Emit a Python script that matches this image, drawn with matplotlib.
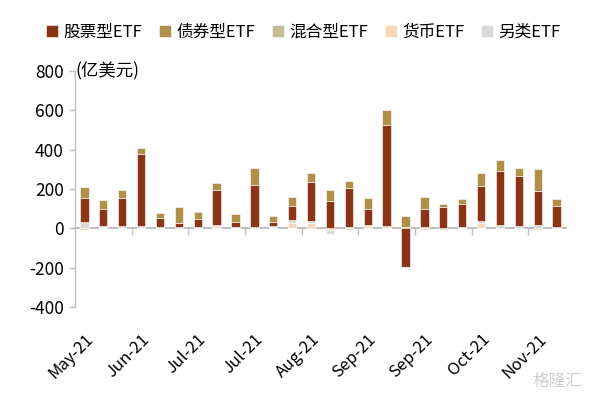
import matplotlib
matplotlib.use("Agg")
import matplotlib.pyplot as plt
import numpy as np

plt.rcParams['font.family'] = ['Noto Sans CJK SC', 'DejaVu Sans']
plt.rcParams['axes.unicode_minus'] = False

# ---- data (亿美元, weekly flows) ----
series_names = ['股票型ETF', '债券型ETF', '混合型ETF', '货币ETF', '另类ETF']
stock = [120, 85, 144, 366, 46, 20, 40, 178, 26, 217, 23, 70, 198, 141, 195, 85, 515, -198, 93, 107, 116, 174, 270, 254, 169, 110]
bond = [54, 44, 42, 32, 29, 83, 36, 38, 44, 83, 32, 45, 47, 54, 37, 53, 78, 58, 58, 17, 27, 66, 56, 41, 112, 36]
mixed = [0, 2, 0, 0, 0, -3, 0, 2, 0, 0, 2, 0, -5, 0, 2, 0, 0, 0, 2, 0, 0, 0, 0, 2, 0, 0]
money = [-8, 5, -3, 3, 2, -5, 8, 10, 0, -3, 3, 27, 27, -10, -10, 13, 10, 0, -8, 0, 8, 25, -5, 0, -8, -3]
other = [34, 6, 10, 8, 3, 5, 0, 4, 5, 5, 5, 17, 9, -18, 7, 2, 0, 5, 5, -8, 0, 14, 19, 10, 19, 5]
tick_labels = ['May-21', 'Jun-21', 'Jul-21', 'Jul-21', 'Aug-21', 'Sep-21', 'Sep-21', 'Oct-21', 'Nov-21']

colors = {'股票型ETF': '#8A3515', '债券型ETF': '#B08F4A', '混合型ETF': '#C4BD97',
          '货币ETF': '#FCD5B4', '另类ETF': '#D9D9D9'}
values = {'股票型ETF': stock, '债券型ETF': bond, '混合型ETF': mixed,
          '货币ETF': money, '另类ETF': other}
# stacking order from the baseline outward
stack_order = ['货币ETF', '另类ETF', '混合型ETF', '股票型ETF', '债券型ETF']

n = len(stock)
x = np.arange(n)

fig = plt.figure(figsize=(5.92, 3.97), dpi=100)
ax = fig.add_axes([75/592, 1-307/397, (566-75)/592, (307-71)/397])

pos_base = np.zeros(n)
neg_base = np.zeros(n)
handles = {}
for name in stack_order:
    v = np.array(values[name], dtype=float)
    pos = np.where(v > 0, v, 0)
    neg = np.where(v < 0, v, 0)
    h = ax.bar(x, pos, bottom=pos_base, width=0.44, color=colors[name],
               edgecolor='white', linewidth=0.4, zorder=3)
    ax.bar(x, neg, bottom=neg_base, width=0.44, color=colors[name],
           edgecolor='white', linewidth=0.4, zorder=3)
    pos_base += pos
    neg_base += neg
    handles[name] = h

ax.set_xlim(-0.5, n - 0.5)
ax.set_ylim(-400, 800)
ax.set_yticks(np.arange(-400, 801, 200))
ax.set_yticklabels([str(v) for v in range(-400, 801, 200)])

gray = '#BFBFBF'
for s in ['top', 'right', 'bottom']:
    ax.spines[s].set_visible(False)
ax.spines['left'].set_color(gray)
ax.spines['left'].set_linewidth(1.0)
ax.tick_params(axis='y', colors=gray, labelcolor='#000000', labelsize=12.5,
               length=4, width=1.0, direction='out', pad=4)

label_pos = np.arange(0, n, 3)[:len(tick_labels)]
ax.set_xticks(label_pos)
ax.set_xticklabels(tick_labels, rotation=45, ha='right', rotation_mode='anchor',
                   fontsize=12)
ax.tick_params(axis='x', length=0, pad=17)

# zero axis with category-boundary tick marks
sec = ax.secondary_xaxis(400/1200)
sec.set_xticks(np.arange(2.5, n - 0.5, 3))
sec.set_xticklabels([])
sec.tick_params(axis='x', length=5, width=1.0, color=gray, direction='out')
sec.spines['bottom'].set_color(gray)
sec.spines['bottom'].set_linewidth(1.5)

ax.text(0.0, 1.0, '(亿美元)', transform=ax.transAxes, ha='left', va='center',
        fontsize=12.5)

fig.legend([handles[nm] for nm in series_names], series_names, loc='center',
           bbox_to_anchor=(0.512, 1-32/397), ncol=5, frameon=False,
           fontsize=12, handlelength=0.75, handleheight=0.75,
           handletextpad=0.3, columnspacing=1.0, borderaxespad=0)

fig.text(1-10/592, 1-381/397, '格隆汇', ha='right', va='center', fontsize=12,
         color='#D0D0D0')

fig.savefig('out.png', dpi=100)
